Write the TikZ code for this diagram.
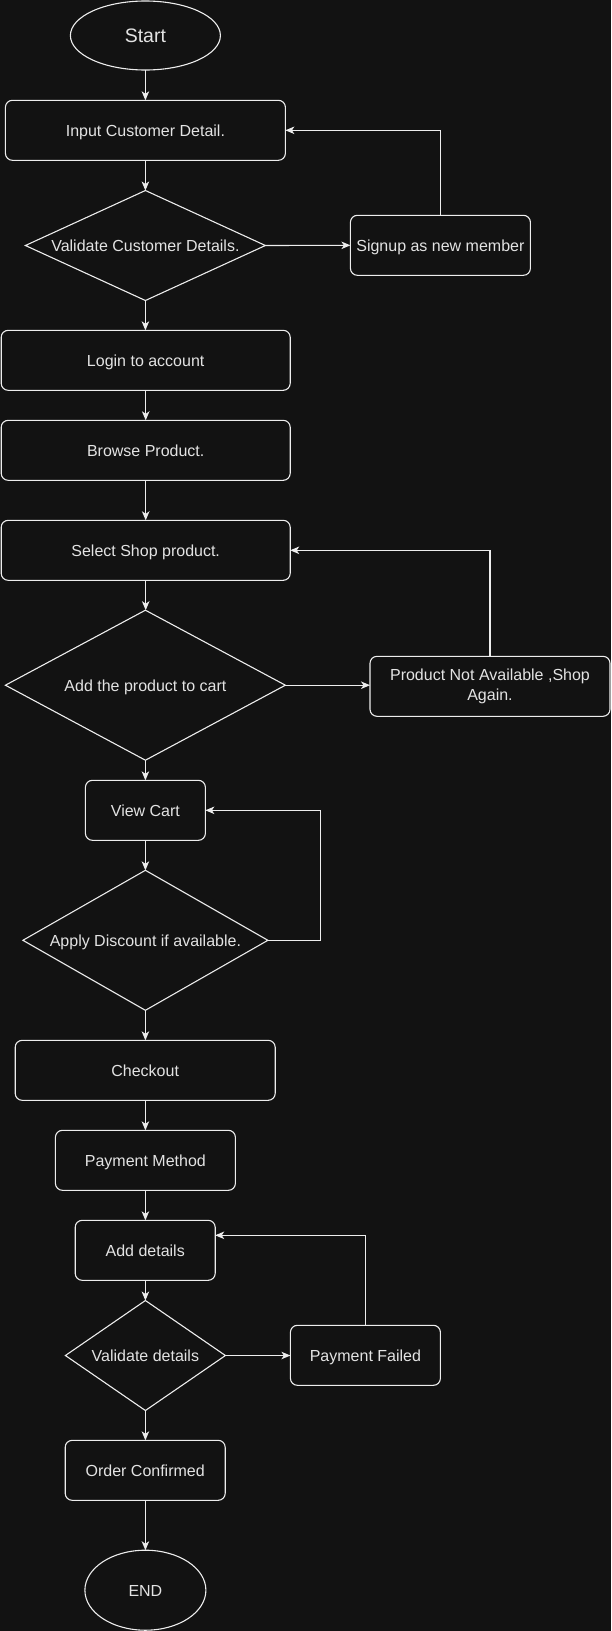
\documentclass[tikz,border=0pt]{standalone}
\usepackage{fontspec}
\setmainfont{Liberation Sans}
\usetikzlibrary{shapes.geometric,arrows.meta,calc}
\definecolor{bgc}{HTML}{121212}
\definecolor{strk}{HTML}{EDEDED}
\definecolor{txtc}{HTML}{E3E3E3}
\begin{document}
\begin{tikzpicture}[x=1pt,y=-1pt,
  every node/.style={text=txtc,font=\fontsize{16}{19.2}\selectfont,inner sep=0pt,outer sep=0pt},
  one/.style={text height=14pt,text depth=2pt},
  box/.style={draw=strk,line width=1.1pt,rounded corners=7pt,minimum height=60pt,align=center},
  dec/.style={draw=strk,line width=1.1pt,diamond,one},
  term/.style={draw=strk,line width=1.1pt,ellipse},
  arr/.style={draw=strk,line width=1.1pt,-{Stealth[length=9pt,width=7.5pt,inset=2.5pt]}}
]
\useasboundingbox (0,0) rectangle (611,1631);
\fill[bgc] (0,0) rectangle (611,1631);

\node[term,minimum width=150pt,minimum height=69pt,font=\fontsize{19.5}{23}\selectfont,text height=17pt,text depth=2.4pt] (start) at (145.4,35.5) {Start};
\node[box,one,minimum width=280pt] (input) at (145.4,130.3) {Input Customer Detail.};
\node[dec,aspect=2.18,minimum width=240pt,minimum height=110pt] (v1) at (145.4,245.5) {Validate Customer Details.};
\node[box,one,minimum width=180pt] (signup) at (440.4,245.3) {Signup as new member};
\node[box,one,minimum width=289pt] (login) at (145.7,360.3) {Login to account};
\node[box,one,minimum width=289pt] (browse) at (145.7,450.3) {Browse Product.};
\node[box,one,minimum width=289pt] (select) at (145.7,550.3) {Select Shop product.};
\node[dec,aspect=1.87,minimum width=280pt,minimum height=150pt] (add) at (145.4,685.2) {Add the product to cart};
\node[box,minimum width=240pt] (pna) at (490.0,686.3) {Product Not Available ,Shop\\Again.};
\node[box,one,minimum width=120pt] (cart) at (145.4,810.3) {View Cart};
\node[dec,aspect=1.75,minimum width=245pt,minimum height=140pt] (apply) at (145.4,940.3) {Apply Discount if available.};
\coordinate (k1) at (320.3,940.3);
\node[box,one,minimum width=260pt] (checkout) at (145.2,1070.3) {Checkout};
\node[box,one,minimum width=180pt] (paym) at (145.4,1160.3) {Payment Method};
\node[box,one,minimum width=140pt] (adddet) at (145.2,1250.3) {Add details};
\node[dec,aspect=1.45,minimum width=160pt,minimum height=110pt] (vd) at (145.4,1355.5) {Validate details};
\node[box,one,minimum width=150pt] (pf) at (365.4,1355.3) {Payment Failed};
\node[box,one,minimum width=160pt] (oc) at (145.2,1470.3) {Order Confirmed};
\node[term,one,minimum width=121pt,minimum height=80pt] (end) at (145.4,1590.2) {END};

\draw[arr] (start.south) -- (input.north);
\draw[arr] (input.south) -- (v1.north);
\draw[arr] (v1.east) -- (signup.west);
\draw[arr] (signup.north) |- (input.east);
\draw[arr] (v1.south) -- (v1.south |- login.north);
\draw[arr] (login.south) -- (browse.north);
\draw[arr] (browse.south) -- (browse.south |- select.north);
\draw[arr] (select.south) -- (select.south |- add.north);
\draw[arr] (add.east) -- (add.east -| pna.west);
\draw[arr] (pna.north) |- (select.east);
\draw[arr] (add.south) -- (cart.north);
\draw[arr] (cart.south) -- (apply.north);
\draw[arr] (apply.east) -- (k1) |- (cart.east);
\draw[arr] (apply.south) -- (apply.south |- checkout.north);
\draw[arr] (checkout.south) -- (checkout.south -| paym.north) -- (paym.north);
\draw[arr] (paym.south) -- (paym.south |- adddet.north);
\draw[arr] (adddet.south) -- (adddet.south -| vd.north) -- (vd.north);
\draw[arr] (vd.east) -- (vd.east -| pf.west);
\draw[arr] (pf.north) |- ([yshift=15pt]adddet.east);
\draw[arr] (vd.south) -- (vd.south |- oc.north);
\draw[arr] (oc.south) -- (oc.south -| end.north) -- (end.north);
\end{tikzpicture}
\end{document}
